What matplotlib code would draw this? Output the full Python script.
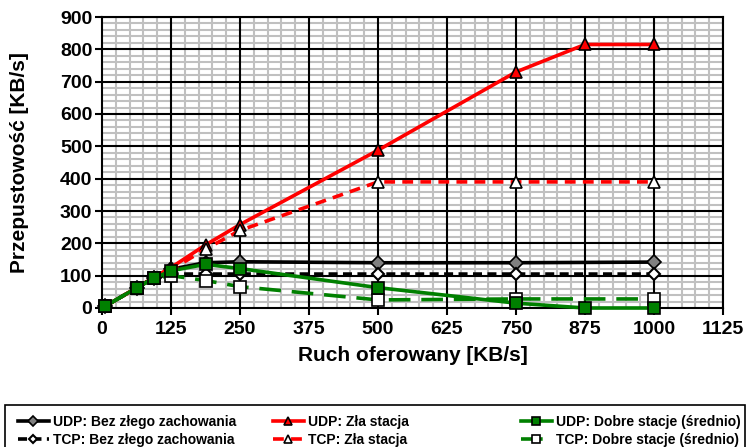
import numpy as np
import matplotlib
matplotlib.use("Agg")
import matplotlib.pyplot as plt
from matplotlib.patches import Rectangle
from matplotlib.ticker import MultipleLocator

plt.rcParams['font.family'] = ['Liberation Sans', 'DejaVu Sans']
plt.rcParams['font.weight'] = 'bold'

# Data
x_short = [6.25, 62.5, 93.75, 125, 187.5, 250, 500, 750, 1000]
x_long = [6.25, 62.5, 93.75, 125, 187.5, 250, 500, 750, 875, 1000]

udp_bez = [6, 62, 93, 120, 140, 143, 140, 140, 142]
udp_zla = [6, 62, 95, 125, 195, 258, 488, 730, 815, 815]
udp_dobre = [6, 62, 92, 115, 135, 122, 63, 15, 0, 0]
tcp_bez = [6, 62, 93, 105, 105, 105, 105, 105, 105]
tcp_zla = [6, 62, 93, 118, 182, 240, 390, 390, 390]
tcp_dobre = [6, 62, 92, 100, 85, 66, 25, 28, 28]

labels = ["UDP: Bez złego zachowania", "UDP: Zła stacja", "UDP: Dobre stacje (średnio)",
          "TCP: Bez złego zachowania", "TCP: Zła stacja", "TCP: Dobre stacje (średnio)"]

fig = plt.figure(figsize=(7.49, 4.47), dpi=100)
ax = fig.add_axes([102 / 749, 1 - 308 / 447, (723 - 102) / 749, (308 - 17) / 447])

lw = 2.6
h_ub, = ax.plot(x_short, udp_bez, color='black', lw=lw, marker='D', ms=7,
                mfc='#808080', mec='black', mew=1.2, label=labels[0], zorder=3, clip_on=False)
h_uz, = ax.plot(x_long, udp_zla, color='#FF0000', lw=lw, marker='^', ms=9,
                mfc='#FF0000', mec='black', mew=1.2, label=labels[1], zorder=3, clip_on=False)
h_tb, = ax.plot(x_short, tcp_bez, color='black', lw=lw, ls=(0, (2.5, 1.5)), marker='D', ms=6,
                mfc='white', mec='black', mew=1.5, label=labels[3], zorder=3, clip_on=False)
h_tz, = ax.plot(x_short, tcp_zla, color='#FF0000', lw=lw, ls=(0, (3, 2)), marker='^', ms=9,
                mfc='white', mec='black', mew=1.2, label=labels[4], zorder=3, clip_on=False)
h_td, = ax.plot(x_short, tcp_dobre, color='#008000', lw=lw, ls=(0, (6, 3)), marker='s', ms=8,
                mfc='white', mec='black', mew=1.2, label=labels[5], zorder=3, clip_on=False)
h_ud, = ax.plot(x_long, udp_dobre, color='#008000', lw=lw, marker='s', ms=8,
                mfc='#008000', mec='black', mew=1.2, label=labels[2], zorder=3, clip_on=False)

ax.set_xlim(0, 1125)
ax.set_ylim(0, 900)
ax.xaxis.set_major_locator(MultipleLocator(125))
ax.xaxis.set_minor_locator(MultipleLocator(25))
ax.yaxis.set_major_locator(MultipleLocator(100))
ax.yaxis.set_minor_locator(MultipleLocator(20))

# minor grid gray, major grid black on top of it
ax.set_axisbelow(True)
ax.grid(which='minor', color='#C0C0C0', lw=1.5)
for xv in np.arange(125, 1126, 125):
    ax.axvline(xv, color='black', lw=1.5, zorder=0.6)
for yv in np.arange(100, 901, 100):
    ax.axhline(yv, color='black', lw=1.5, zorder=0.6)

for sp in ax.spines.values():
    sp.set_linewidth(1.5)
ax.tick_params(which='major', direction='out', length=5, width=1.5, labelsize=14, pad=2)
ax.tick_params(axis='x', which='major', pad=4)
ax.tick_params(which='minor', length=0)

ax.set_xlabel("Ruch oferowany [KB/s]", fontsize=15, fontweight='bold', labelpad=6)
ax.set_ylabel("Przepustowość [KB/s]", fontsize=15, fontweight='bold', labelpad=22)

# legend box at the bottom, cut by the picture edge
fig.add_artist(Rectangle((5 / 749, -0.1), 740 / 749, (447 - 405) / 447 + 0.1,
                         transform=fig.transFigure, fill=False, edgecolor='black', lw=1.2))
cols = [(h_ub, h_tb), (h_uz, h_tz), (h_ud, h_td)]
col_x = [18, 273, 521]
for hs, cx in zip(cols, col_x):
    fig.legend(handles=list(hs), loc='upper left', bbox_to_anchor=(cx / 749, 1 - 415 / 447),
               frameon=False, fontsize=10, handlelength=2.2, handletextpad=0.3,
               labelspacing=0.3, borderpad=0, borderaxespad=0, markerscale=0.7)

fig.savefig("out.png", dpi=100)
